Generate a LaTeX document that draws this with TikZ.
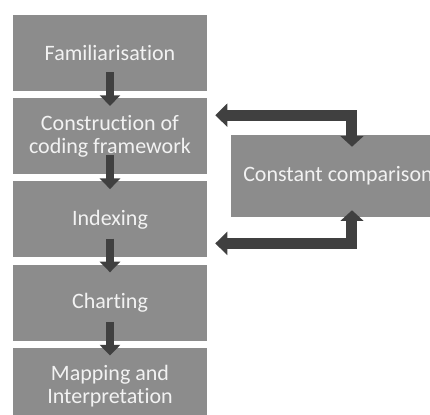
\documentclass[tikz,border=0pt]{standalone}
\usepackage{fontspec}
\setmainfont{Carlito}[Ligatures=NoCommon]
\usepackage{tikz}
\usetikzlibrary{positioning,arrows.meta}

\definecolor{boxgray}{RGB}{140,140,140}
\definecolor{arrowgray}{RGB}{64,64,64}
\definecolor{textwhite}{RGB}{242,242,242}

\begin{document}
\begin{tikzpicture}[x=0.75pt,y=-0.75pt,node distance=5pt]
        \tikzset{
            stage/.style={fill=boxgray,text=textwhite,minimum width=145.5pt,minimum height=57pt,
                align=center,inner sep=0pt,font=\fontsize{16.5}{17.5}\selectfont},
            down/.style={draw=arrowgray,line width=6pt,-{Triangle[width=15pt,length=8pt]}},
            feedback/.style={draw=arrowgray,line width=8.25pt,miter limit=4,
                {Triangle[width=17pt,length=9pt]}-{Triangle[width=17pt,length=8pt]}}
        }
        \useasboundingbox (0,0) rectangle (430,415);
        % main column
        \node[stage] (fam) at (110,53) {Familiarisation};
        \node[stage] (cons) [below=of fam] {Construction of\\coding framework};
        \node[stage] (idx) [below=of cons] {Indexing};
        \node[stage] (chart) [below=of idx] {Charting};
        \node[stage] (map) [below=of chart] {Mapping and\\Interpretation};
        % side box
        \node[stage,minimum width=160.5pt,minimum height=61.5pt] (comp) at (338,176) {Constant comparison};
        % arrows down the column
        \draw[down] ([yshift=14.25pt]fam.south) -- ([yshift=-6pt]cons.north);
        \draw[down] ([yshift=14.25pt]cons.south) -- ([yshift=-6pt]idx.north);
        \draw[down] ([yshift=14.25pt]idx.south) -- ([yshift=-6pt]chart.north);
        \draw[down] ([yshift=14.25pt]chart.south) -- ([yshift=-6pt]map.north);
        % feedback loops
        \draw[feedback] ([shift={(6pt,15.75pt)}]cons.east) -| ([shift={(10.5pt,-9pt)}]comp.north);
        \draw[feedback] ([shift={(6pt,-18pt)}]idx.east) -| ([shift={(10.5pt,5.25pt)}]comp.south);
\end{tikzpicture}
\end{document}
